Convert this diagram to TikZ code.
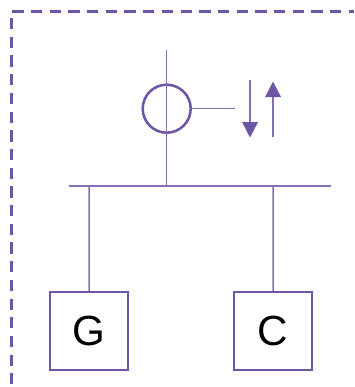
\documentclass[tikz,border=0pt]{standalone}
\usepackage{fontspec}
\setmainfont{Liberation Sans}
\definecolor{meterpurple}{HTML}{6F55A6}
\begin{document}
\begin{tikzpicture}[scale=0.02]
\tikzstyle{every node}+=[inner sep=0pt]
\tikzstyle{unitbox}=[draw=meterpurple,line width=1.45pt,minimum size=1.56cm,font=\fontsize{24}{24}\selectfont]
\tikzstyle{meter}=[draw=meterpurple,line width=1.45pt,circle,minimum size=0.96cm]
\tikzstyle{wire}=[meterpurple!85,line width=0.85pt]
\useasboundingbox (0,0) rectangle (354,-387);
\draw [meterpurple,line width=1.7pt,dash pattern=on 11.3*0.02cm off 7.4*0.02cm] (12.3,-11.3) -- (354,-11.3);
\draw [meterpurple,line width=1.7pt,dash pattern=on 11.3*0.02cm off 7.4*0.02cm] (11.2,-18) -- (11.2,-384);
\node [meter] (M) at (166.7,-108.7) {};
\node [unitbox] (G) at (89,-331) {G};
\node [unitbox] (C) at (273,-331) {C};
\coordinate (top) at (166.7,-50);
\coordinate (stub) at (235,-108.7);
\coordinate (busL) at (69,-186);
\coordinate (busR) at (331,-186);
\coordinate (busM) at (166.7,-186);
\coordinate (busG) at (89,-186);
\coordinate (busC) at (273,-186);
\coordinate (downA) at (250,-80);
\coordinate (downB) at (250,-122);
\coordinate (upA) at (273,-136.5);
\coordinate (upB) at (273,-97);
\draw [wire] (busL) -- (busR);
\draw [wire] (top) -- (busM);
\draw [wire] (M) ++(24.5,0) -- (stub);
\draw [wire] (busG) -- (G);
\draw [wire] (busC) -- (C);
\draw [wire] (downA) -- (downB);
\fill [meterpurple] (downB) -- ++(-8,0) -- ++(8,-15.5) -- ++(8,15.5);
\draw [wire] (upA) -- (upB);
\fill [meterpurple] (upB) -- ++(-8,0) -- ++(8,15.5) -- ++(8,-15.5);
\end{tikzpicture}
\end{document}
